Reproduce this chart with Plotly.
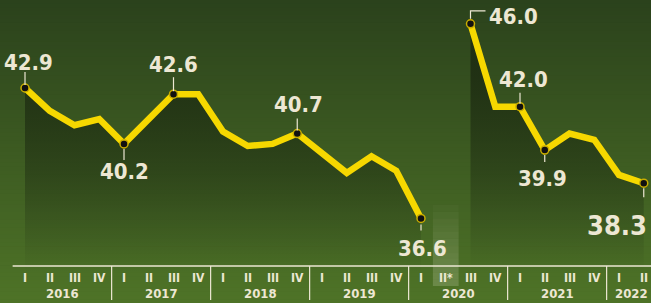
import plotly.graph_objects as go

# ---------------- data ----------------
years = ["2016", "2017", "2018", "2019", "2020", "2021", "2022"]
quarter_labels = ["I", "II", "III", "IV"] * 6 + ["I", "II"]
quarter_labels[17] = "II*"
values = [42.9, 41.8, 41.1, 41.4, 40.2, 41.4, 42.6, 42.6, 40.8, 40.1, 40.2, 40.7,
          39.7, 38.8, 39.6, 38.9, 36.6, None, 46.0, 42.0, 42.0, 39.9, 40.7, 40.4,
          38.7, 38.3]
labeled_idx = [0, 4, 6, 11, 16, 18, 20, 21, 25]
gap_idx = 17

x = list(range(len(values)))

# ---------------- styling ----------------
W, H = 651, 303
px_per_q = 24.75
x0_px = 25
x_range = [-x0_px / px_per_q, (W - x0_px) / px_per_q]
px_per_unit = 20.7
y_top = 42.9 + 88 / px_per_unit
y_bot = 42.9 - (H - 88) / px_per_unit

FONT = "DejaVu Sans Condensed, DejaVu Sans, sans-serif"
CREAM = "#ede7d3"
YELLOW = "#f6d800"

fig = go.Figure()

# background gradient strips
shapes = []
top_c = (43, 66, 28)
bot_c = (78, 115, 39)
n = 80
for i in range(n):
    t = i / (n - 1)
    c = tuple(int(round(top_c[k] + (bot_c[k] - top_c[k]) * t)) for k in range(3))
    shapes.append(dict(type="rect", xref="paper", yref="paper",
                       x0=0, x1=1, y0=1 - (i + 1) / n - 0.002, y1=1 - i / n,
                       fillcolor=f"rgb{c}", line_width=0, layer="below"))

# gap band for 2020 Q2
band_bottom = 1 - 286 / H
band_top = 1 - 205 / H
m = 12
for i in range(m):
    yb = band_bottom + (band_top - band_bottom) * i / m
    yt = band_bottom + (band_top - band_bottom) * (i + 1) / m
    a = 0.20 * (1 - (i / m) ** 1.5)
    shapes.append(dict(type="rect", xref="x", yref="paper",
                       x0=gap_idx - 0.52, x1=gap_idx + 0.52, y0=yb, y1=yt,
                       fillcolor=f"rgba(235,235,210,{a:.3f})", line_width=0, layer="below"))

# baseline and year separators
base_y = 1 - 266 / H
shapes.append(dict(type="line", xref="x", yref="paper", x0=-0.5, x1=x_range[1],
                   y0=base_y, y1=base_y, line=dict(color=CREAM, width=1.6)))
for k in range(1, len(years)):
    xs = 4 * k - 0.5
    shapes.append(dict(type="line", xref="x", yref="paper", x0=xs, x1=xs,
                       y0=base_y, y1=1 - 300 / H, line=dict(color=CREAM, width=1.2)))

# leader lines (pixel offsets, relative to point)
leaders = {0: (3, 16), 4: (-5, -16), 6: (3, 17), 11: (3, 15), 16: (-6, -12),
           20: (3, 14), 21: (-5, -12), 25: (-5, -14)}
for idx, (a0, a1) in leaders.items():
    shapes.append(dict(type="line", xref="x", yref="y", xsizemode="pixel", ysizemode="pixel",
                       xanchor=idx, yanchor=values[idx], x0=0, x1=0, y0=a0, y1=a1,
                       line=dict(color=CREAM, width=1.2)))
shapes.append(dict(type="path", xref="x", yref="y", xsizemode="pixel", ysizemode="pixel",
                   xanchor=18, yanchor=values[18], path="M 0 5 L 0 13 L 15 13",
                   line=dict(color=CREAM, width=1.2)))

# fill segments
seg1_x, seg1_y = x[:gap_idx], values[:gap_idx]
seg2_x, seg2_y = x[gap_idx + 1:], values[gap_idx + 1:]
for sx, sy in [(seg1_x, seg1_y), (seg2_x, seg2_y)]:
    fig.add_trace(go.Scatter(
        x=sx, y=sy, mode="lines", line=dict(width=0), fill="tozeroy",
        fillgradient=dict(type="vertical", start=34.0, stop=43.5,
                          colorscale=[[0, "rgba(28,42,17,0)"], [0.5, "rgba(28,42,17,0.45)"],
                                      [1, "rgba(28,42,17,0.8)"]]),
        hoverinfo="skip", showlegend=False))

# main line
fig.add_trace(go.Scatter(x=x, y=values, mode="lines", connectgaps=False,
                         line=dict(color=YELLOW, width=6.5, shape="linear"),
                         showlegend=False, hoverinfo="skip"))
# markers
fig.add_trace(go.Scatter(x=[x[i] for i in labeled_idx], y=[values[i] for i in labeled_idx],
                         mode="markers",
                         marker=dict(size=8, color="#111", line=dict(color="#c8ad00", width=1.5)),
                         showlegend=False, hoverinfo="skip"))

annotations = []
# value labels
lab_pos = {0: (3, 26, "center", 22), 4: (0, -28, "center", 22), 6: (0, 30, "center", 22),
           11: (1, 29, "center", 22), 16: (1, -30, "center", 22), 18: (16, 7, "left", 22),
           20: (3, 27, "center", 22), 21: (-2, -28, "center", 22), 25: (5, -42, "right", 27)}
for idx, (xs, ys, xa, fs) in lab_pos.items():
    annotations.append(dict(x=idx, y=values[idx], xref="x", yref="y", text=f"{values[idx]:.1f}",
                            showarrow=False, xshift=xs, yshift=ys, xanchor=xa, yanchor="middle",
                            font=dict(family=FONT, size=fs, color=CREAM, weight="bold")))
# quarter labels
for i, q in enumerate(quarter_labels):
    annotations.append(dict(x=i, y=1 - 278 / H, xref="x", yref="paper", text=q, showarrow=False,
                            xanchor="center", yanchor="middle",
                            font=dict(family=FONT, size=12, color=CREAM, weight="bold")))
# year labels
for k, yr in enumerate(years):
    cx = 4 * k + 1.5 if k < len(years) - 1 else 4 * k + 0.5
    annotations.append(dict(x=cx, y=1 - 293 / H, xref="x", yref="paper", text=yr, showarrow=False,
                            xanchor="center", yanchor="middle",
                            font=dict(family=FONT, size=13, color=CREAM, weight="bold")))

fig.update_layout(
    width=W, height=H, margin=dict(l=0, r=0, t=0, b=0),
    paper_bgcolor="rgb(60,90,33)", plot_bgcolor="rgba(0,0,0,0)",
    xaxis=dict(range=x_range, visible=False, fixedrange=True),
    yaxis=dict(range=[y_bot, y_top], visible=False, fixedrange=True),
    shapes=shapes, annotations=annotations, showlegend=False,
)

post = """
document.body.style.margin = '0';
document.body.style.overflow = 'hidden';
var st = document.createElement('style');
st.textContent = 'svg text { font-stretch: condensed !important; }';
document.head.appendChild(st);
"""

fig.write_html("out.html", post_script=post, config={"staticPlot": True})
